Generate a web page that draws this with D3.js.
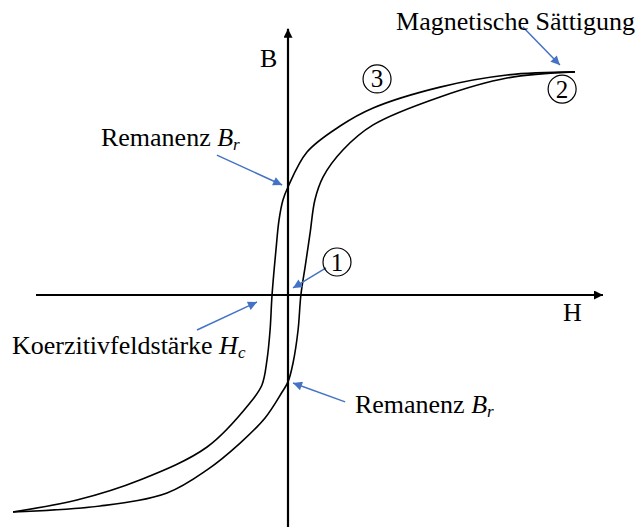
<!DOCTYPE html>
<html lang="de">
<head>
<meta charset="utf-8">
<title>Hystereseschleife</title>
<script src="https://d3js.org/d3.v7.min.js"></script>
<style>
  body { margin: 0; background: #fff; }
  svg { display: block; }
  text { font-family: "Liberation Serif", "Times New Roman", serif; fill: #000; }
</style>
</head>
<body>
<svg id="chart" width="638" height="527"></svg>
<script>
// Absteigender Ast (von der Sättigung nach links unten), H / B in willkürlichen Einheiten
const descH = [10.25, 7.82, 5.43, 3.04, 1.86, 0.68, 0, -0.18, -0.32, -0.43, -0.57, -0.64, -0.75, -0.93, -1.36, -2.89, -5.29, -7.54, -9.82];
const descB = [10.14, 10.0, 9.45, 8.5, 7.68, 6.5, 4.91, 4.32, 3.41, 2.05, 0, -1.59, -2.95, -4.09, -4.91, -6.91, -8.41, -9.32, -9.86];

// Aufsteigender Ast (von links unten zur Sättigung)
const ascH = [-9.82, -6.71, -4.32, -2.89, -1.71, -0.82, -0.21, 0, 0.18, 0.36, 0.46, 0.61, 0.79, 0.96, 1.25, 1.96, 3.04, 5.43, 7.82, 10.25];
const ascB = [-9.86, -9.59, -9.0, -7.95, -6.73, -5.59, -4.41, -3.95, -3.09, -1.59, 0, 1.27, 2.82, 4.32, 5.36, 6.59, 7.73, 9.0, 9.86, 10.14];

// Achsenbereich
const hRange = [-9.0, 11.25];
const bRange = [-10.55, 12.1];

// Beschriftungen mit Pfeilen
const labels = [
    {main: "Magnetische Sättigung", sym: "", sub: "", at: [3.86, 12.05], from: [8.39, 12.18], to: [9.71, 10.45]},
    {main: "Remanenz ", sym: "B", sub: "r", at: [-6.68, 6.77], from: [-2.54, 6.36], to: [-0.21, 5.0]},
    {main: "Koerzitivfeldstärke ", sym: "H", sub: "c", at: [-9.86, -2.68], from: [-3.25, -1.59], to: [-1.11, -0.32]},
    {main: "Remanenz ", sym: "B", sub: "r", at: [2.39, -5.36], from: [2.04, -4.86], to: [0.18, -4.0]}
];

// nummerierte Punkte
const marks = [
    {n: "1", at: [1.75, 1.5], from: [1.36, 1.23], to: [0.18, 0.32]},
    {n: "2", at: [9.79, 9.36]},
    {n: "3", at: [3.18, 9.82]}
];

const x = d3.scaleLinear().domain([-10, 10]).range([8, 568]);
const y = d3.scaleLinear().domain([-10, 10]).range([515, 75]);

const svg = d3.select("#chart");
const blue = "#4472C4";

const defs = svg.append("defs");
[["blackHead", "#000"], ["blueHead", blue]].forEach(([id, col]) => {
    defs.append("marker")
        .attr("id", id)
        .attr("viewBox", "0 0 10 10")
        .attr("refX", 10).attr("refY", 5)
        .attr("markerUnits", "userSpaceOnUse")
        .attr("markerWidth", 11).attr("markerHeight", 9)
        .attr("orient", "auto")
        .append("path").attr("d", "M0,0 L10,5 L0,10 z").attr("fill", col);
});

// Achsen
svg.append("line")
    .attr("x1", x(hRange[0])).attr("y1", y(0))
    .attr("x2", x(hRange[1])).attr("y2", y(0))
    .attr("stroke", "#000").attr("stroke-width", 2.2)
    .attr("marker-end", "url(#blackHead)");
svg.append("line")
    .attr("x1", x(0)).attr("y1", y(bRange[0]))
    .attr("x2", x(0)).attr("y2", y(bRange[1]))
    .attr("stroke", "#000").attr("stroke-width", 2.2)
    .attr("marker-end", "url(#blackHead)");

svg.append("text").attr("x", x(-1.0)).attr("y", y(10.36))
    .style("font-size", "26px").text("B");
svg.append("text").attr("x", x(9.82)).attr("y", y(-1.18))
    .style("font-size", "26px").text("H");

// Hystereseschleife
const line = d3.line()
    .x(d => x(d[0]))
    .y(d => y(d[1]))
    .curve(d3.curveCatmullRom.alpha(0.5));

const branches = [
    d3.zip(descH, descB),
    d3.zip(ascH, ascB)
];

svg.selectAll("path.branch")
    .data(branches)
    .enter()
    .append("path")
    .attr("class", "branch")
    .attr("d", line)
    .attr("fill", "none")
    .attr("stroke", "#000")
    .attr("stroke-width", 1.6);

// Pfeile
const arrows = labels.concat(marks.filter(m => m.from));
svg.selectAll("line.note")
    .data(arrows)
    .enter()
    .append("line")
    .attr("class", "note")
    .attr("x1", d => x(d.from[0])).attr("y1", d => y(d.from[1]))
    .attr("x2", d => x(d.to[0])).attr("y2", d => y(d.to[1]))
    .attr("stroke", blue).attr("stroke-width", 1.5)
    .attr("marker-end", "url(#blueHead)");

// Texte
const t = svg.selectAll("text.label")
    .data(labels)
    .enter()
    .append("text")
    .attr("class", "label")
    .attr("x", d => x(d.at[0]))
    .attr("y", d => y(d.at[1]))
    .style("font-size", "26px");
t.append("tspan").text(d => d.main);
t.append("tspan").style("font-style", "italic").text(d => d.sym);
t.append("tspan").style("font-style", "italic").style("font-size", "17px")
    .attr("dy", 4).text(d => d.sub);

// eingekreiste Ziffern
const m = svg.selectAll("g.mark")
    .data(marks)
    .enter()
    .append("g")
    .attr("class", "mark")
    .attr("transform", d => `translate(${x(d.at[0])},${y(d.at[1])})`);
m.append("circle").attr("r", 14)
    .attr("fill", "none").attr("stroke", "#000").attr("stroke-width", 1.2);
m.append("text").attr("text-anchor", "middle").attr("y", 8.5)
    .style("font-size", "25px").text(d => d.n);
</script>
</body>
</html>
